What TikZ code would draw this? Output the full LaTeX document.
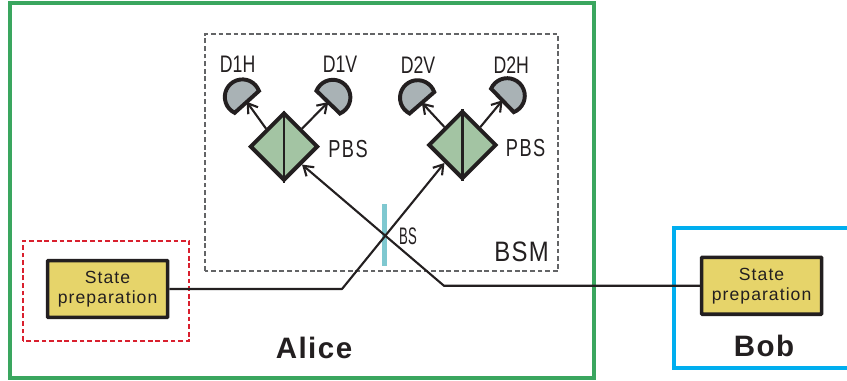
\documentclass[tikz,border=0pt]{standalone}
\usepackage{fontspec}
\setmainfont{Liberation Sans}
\newfontfamily\spacedfont[LetterSpace=6]{Liberation Sans}
\newfontfamily\partyfont[LetterSpace=5]{Liberation Sans}
\newfontfamily\narrowfont[FakeStretch=0.74]{Liberation Sans}
\newfontfamily\pbsfont[FakeStretch=0.74,LetterSpace=6]{Liberation Sans}
\newfontfamily\widefont[FakeStretch=0.85,LetterSpace=5]{Liberation Sans}
\newfontfamily\thinfont[FakeStretch=0.55]{Liberation Sans}
\usetikzlibrary{arrows.meta,shapes.geometric}
\definecolor{inkdark}{HTML}{231F20}
\definecolor{alicegreen}{HTML}{3AA65F}
\definecolor{bobblue}{HTML}{00AEEF}
\definecolor{prepred}{HTML}{D9202E}
\definecolor{bsmgray}{HTML}{636466}
\definecolor{pbsfill}{HTML}{A3C4A3}
\definecolor{detfill}{HTML}{A9B2B5}
\definecolor{prepfill}{HTML}{E6D46A}
\definecolor{bsfill}{HTML}{7FC8D0}
\tikzset{
    prep/.style={draw=inkdark, fill=prepfill, line width=2.6pt, rounded corners=0.5pt,
                 minimum width=3cm, minimum height=1.42cm, inner sep=0pt,
                 align=center, text=inkdark,
                 font=\fontsize{12.5}{14.2}\spacedfont},
    pbs/.style={diamond, aspect=1, draw=inkdark, fill=pbsfill, line width=2.8pt,
                minimum size=1.7cm, inner sep=0pt},
    split/.style={draw=inkdark, line width=1.7pt},
    beam/.style={draw=inkdark, line width=1.5pt, line join=round},
    flow/.style={beam, -{Straight Barb[length=6.5pt,width=8.5pt]}},
    frame/.style={line width=2.9pt},
    dashframe/.style={line width=2.05pt, dash pattern=on 3.4pt off 2pt},
    label/.style={text=inkdark, font=\fontsize{17}{17}\narrowfont},
    pbslabel/.style={text=inkdark, font=\fontsize{17.5}{17.5}\pbsfont},
    party/.style={text=inkdark, font=\fontsize{21}{21}\partyfont\bfseries},
    mirror/.style={fill=bsfill, minimum width=0.125cm, minimum height=1.55cm, inner sep=0pt},
    detector/.pic={
        \draw[draw=inkdark, fill=detfill, line width=2.8pt, line join=miter]
            (-112:0.44) arc[start angle=-112, end angle=112, radius=0.44] -- cycle;
        \coordinate (-port) at (180:0.16);
    },
}

\begin{document}
\begin{tikzpicture}
    \useasboundingbox (0,0) rectangle (21.175,9.525);

    % outer frames
    \draw[alicegreen,frame] (0.25,0.075) rectangle (14.85,9.45);
    \draw[bobblue,frame] (21.3,3.825) -- (16.85,3.825) -- (16.85,0.325) -- (21.3,0.325);
    \draw[prepred,dashframe] (0.575,1) rectangle (4.725,3.5);
    \draw[bsmgray,dashframe] (5.125,2.75) rectangle (13.95,8.675);

    \node[mirror] (bs) at (9.6,3.65) {};
    \node[prep] (prepa) at (2.69,2.3) {State\\preparation};
    \node[prep] (prepb) at (19.04,2.38) {State\\preparation};
    \node[pbs] (pbsa) at (7.1,5.86) {};
    \node[pbs] (pbsb) at (11.56,5.9) {};
    \draw[split] (pbsa.north) -- (pbsa.south);
    \draw[split] (pbsb.north) -- (pbsb.south);

    \pic[rotate=132] (dah) at (6.06,7.1) {detector};
    \pic[rotate=46] (dav) at (8.32,7.09) {detector};
    \pic[rotate=131] (dbv) at (10.44,7.08) {detector};
    \pic[rotate=44] (dbh) at (12.68,7.13) {detector};
    \draw[flow] (pbsa.north west) -- (dah-port);
    \draw[flow] (pbsa.north east) -- (dav-port);
    \draw[flow] (pbsb.north west) -- (dbv-port);
    \draw[flow] (pbsb.north east) -- (dbh-port);

    \coordinate (benda) at (8.55,2.3);
    \coordinate (bendb) at (11.1,2.38);
    \draw[flow] (prepa.east) -- (benda) -- (pbsb.south west);
    \draw[flow] (prepb.west) -- (bendb) -- (pbsa.south east);

    \node[label] (ldah) at (5.94,7.92) {D1H};
    \node[label] (ldav) at (8.5,7.92) {D1V};
    \node[label] (ldbv) at (10.45,7.9) {D2V};
    \node[label] (ldbh) at (12.78,7.9) {D2H};
    \node[pbslabel] (lpbsa) at (8.7,5.8) {PBS};
    \node[pbslabel] (lpbsb) at (13.14,5.82) {PBS};
    \node[text=inkdark,font=\fontsize{17}{17}\thinfont] (lbs) at (10.2,3.62) {BS};
    \node[text=inkdark,font=\fontsize{20}{20}\widefont] (lbsm) at (13.04,3.22) {BSM};
    \node[party] (alice) at (7.85,0.825) {Alice};
    \node[party] (bob) at (19.1,0.875) {Bob};

\end{tikzpicture}
\end{document}
